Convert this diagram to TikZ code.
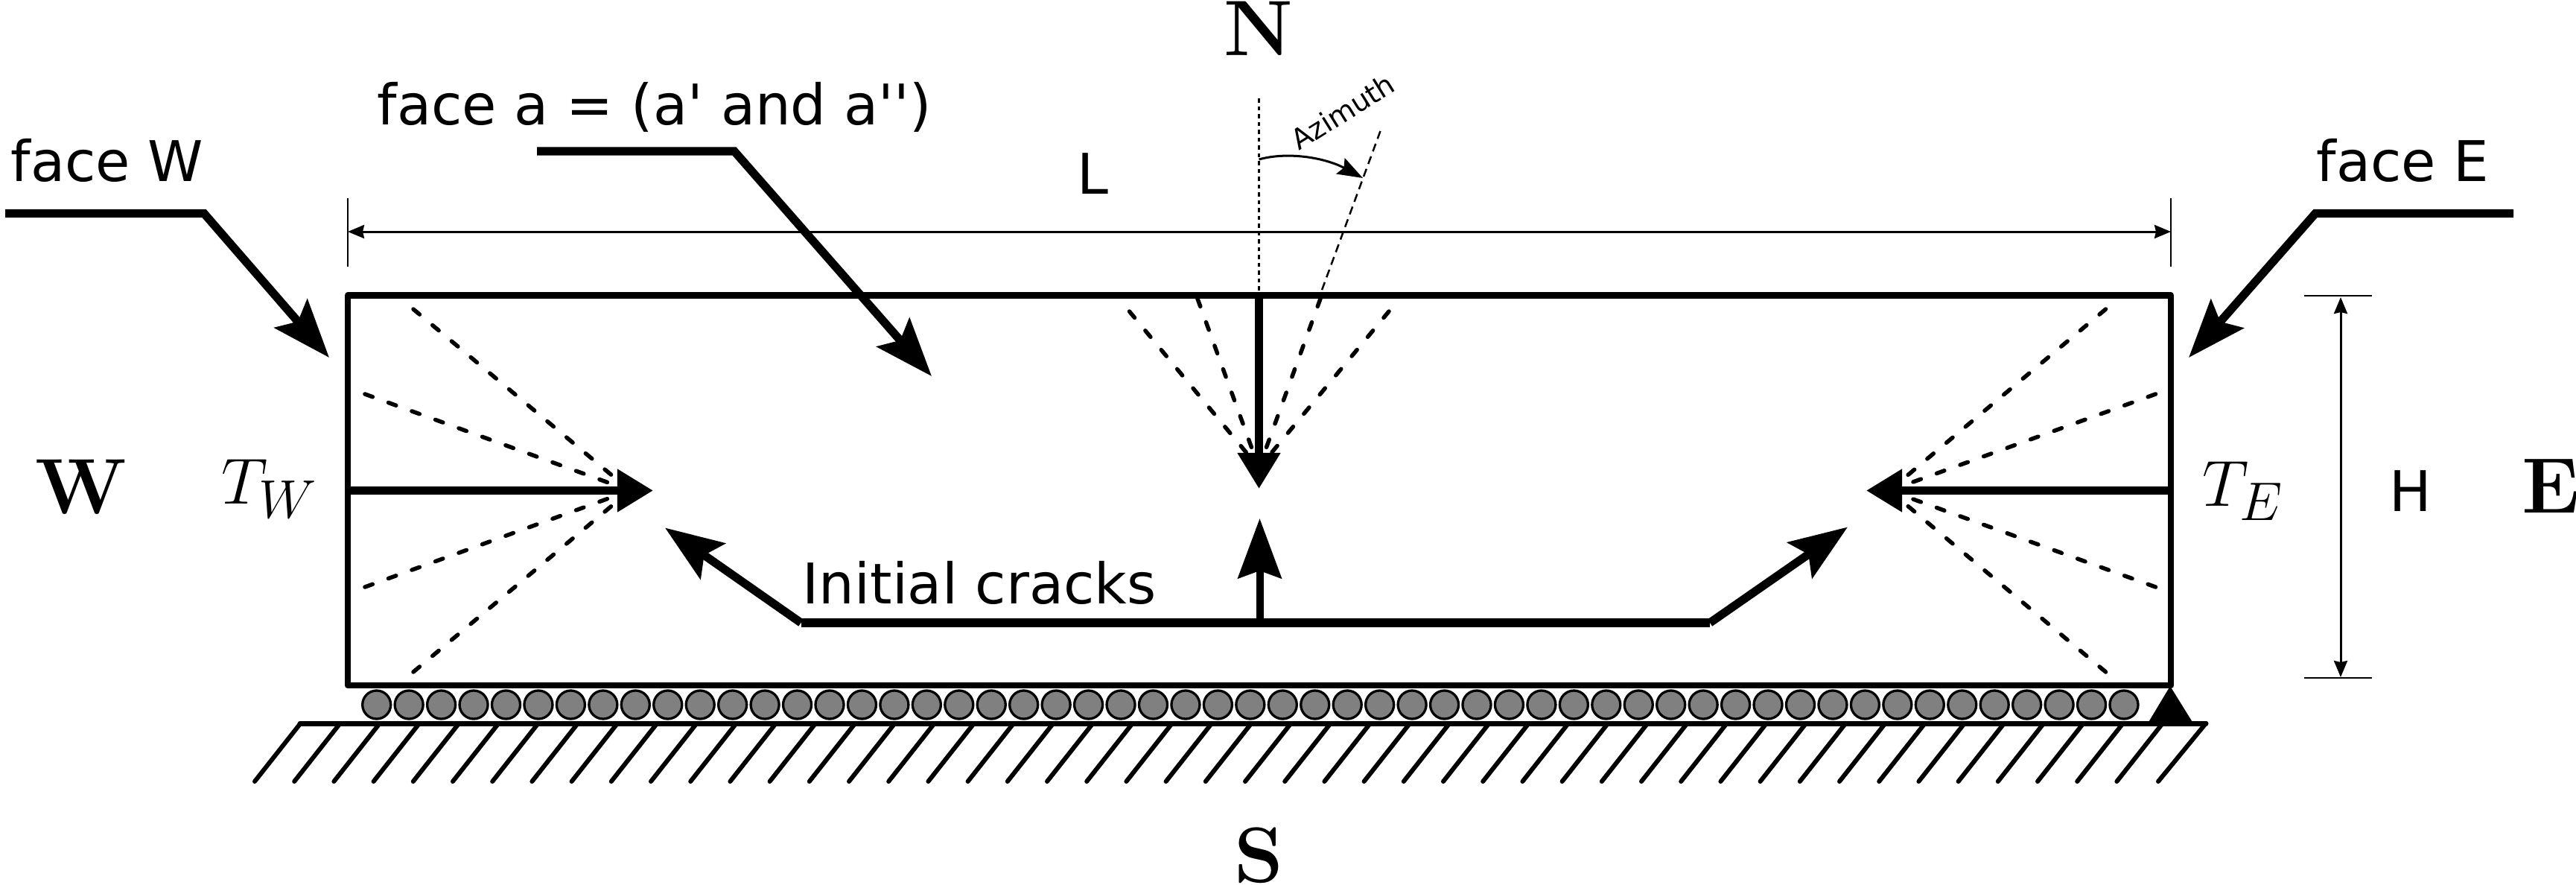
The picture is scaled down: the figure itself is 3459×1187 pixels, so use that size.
\documentclass[tikz,border=0pt]{standalone}
\usepackage[no-math]{fontspec}
\usepackage{amsmath}
\usetikzlibrary{arrows.meta}
\newfontfamily\labelfont{DejaVu Sans}
\tikzset{
    wall/.style={line width=.088cm, line join=round},
    leader/.style={line width=.112cm, line join=miter, -{Stealth[length=.78cm,width=.58cm,inset=.14cm]}},
    force/.style={line width=.11cm, -{Triangle[length=.48cm,width=.55cm]}},
    fan/.style={line width=.055cm, line cap=round, dash pattern=on .11cm off .225cm},
    dimline/.style={line width=.03cm, {Stealth[length=.22cm,width=.18cm,inset=.02cm]}-{Stealth[length=.22cm,width=.18cm,inset=.02cm]}},
    tick/.style={line width=.025cm},
    facelabel/.style={inner sep=0pt, anchor=base west, font=\labelfont\fontsize{21.4}{26}\selectfont},
    compass/.style={inner sep=0pt, anchor=base, font=\bfseries\fontsize{30}{35}\selectfont},
    force label/.style={inner sep=0pt, anchor=base west, font=\fontsize{27.5}{32}\selectfont},
    roller/.style={draw, line width=.033cm, fill=black!50},
    hatch/.style={line width=.06cm, line cap=round}
}
\begin{document}
\begin{tikzpicture}[x=.01cm, y=-.01cm]
    \useasboundingbox (0,0) rectangle (3459,1187);
    \def \n {54} % rollers minus one
    \def \boxl {467}
    \def \boxr {2915}
    \def \boxt {396.5}
    \def \boxb {920}
    \coordinate (tipW) at (877,658.5);
    \coordinate (tipE) at (2506,658.5);
    \coordinate (tipN) at (1690.5,656);
    \coordinate (fanW) at (846,658.5);
    \coordinate (fanE) at (2537,658.5);
    \coordinate (fanN) at (1690.5,628);
    % fans
    \foreach \y in {415,529,788,902}
    {
      \pgfmathsetmacro{\xoff}{(\y==415 || \y==902) ? 555 : 490}
      \draw[fan] (\xoff,\y) -- (fanW);
      \pgfmathsetmacro{\xoff}{(\y==415 || \y==902) ? 2827.5 : 2894.5}
      \draw[fan] (\xoff,\y) -- (fanE);
    }
    \foreach \x/\y in {1516.5/418,1608/401,1773/401,1865/418}
    {
      \draw[fan] (\x,\y) -- (fanN);
    }
    % block
    \draw[wall] (\boxl,\boxt) rectangle (\boxr,\boxb);
    \draw[force] (\boxl,658.5) -- (tipW);
    \draw[force] (\boxr,658.5) -- (tipE);
    \draw[force] (1690.5,\boxt) -- (tipN);
    % support
    \foreach \s in {0,...,\n}
    {
      \draw[roller] ({505.7+43.45*\s},946) circle (.19cm);
    }
    \foreach \s in {0,...,47}
    {
      \draw[hatch] ({403.5+53.2*\s},971) -- ({342+53.2*\s},1049);
    }
    \draw[hatch] (2962,971) -- (2898,1049);
    \draw[line width=.07cm, line cap=round] (403,971) -- (2962,971);
    \fill (2914,921) -- (2945,971) -- (2884,971) -- cycle;
    % dimensions
    \draw[tick] (\boxl,266) -- (\boxl,358);
    \draw[tick] (\boxr,266) -- (\boxr,358);
    \draw[dimline] (\boxl,311) -- (\boxr,311);
    \draw[tick] (3094,397) -- (3185,397);
    \draw[tick] (3094,910) -- (3185,910);
    \draw[dimline] (3143,399) -- (3143,909);
    % azimuth
    \draw[line width=.03cm, dash pattern=on .055cm off .05cm] (1690.5,132) -- (1690.5,392);
    \draw[line width=.025cm, dash pattern=on .11cm off .07cm] (1853.5,176) -- (1774,392);
    \draw[line width=.03cm, -{Stealth[length=.34cm,width=.24cm,inset=.05cm]}]
      (1690.5,214) .. controls (1730,203) and (1780,212) .. (1830,239);
    \node[inner sep=0pt, rotate=32, font=\labelfont\fontsize{10.7}{13}\selectfont] (azimuth) at (1803,150) {Azimuth};
    % leaders
    \draw[leader] (7,286.5) -- (274,286.5) -- (442,480);
    \draw[leader] (721,203) -- (986,203) -- (1251,505);
    \draw[leader] (3375,286.5) -- (3109,286.5) -- (2939,480);
    \draw[leader] (1075.5,836) -- (893,708.5);
    \draw[leader] (2296,836) -- (2481,707.5);
    \draw[line width=.112cm] (1075.5,836) -- (2296,836);
    \draw[line width=.1cm, -{Stealth[length=.8cm,width=.58cm,inset=.1cm]}] (1691.5,836) -- (1691.5,696);
    % labels
    \node[facelabel] (faceW) at (14,243) {face W};
    \node[facelabel] (faceA) at (506,167) {face a = (a' and a'')};
    \node[facelabel] (faceE) at (3110,243) {face E};
    \node[facelabel] (cracks) at (1077,810) {Initial cracks};
    \node[facelabel] (lenL) at (1446,260) {L};
    \node[facelabel] (lenH) at (3208,686) {H};
    \node[force label] (tW) at (297,676) {$T_W$};
    \node[force label] (tE) at (2957,679) {$T_E$};
    \node[compass] (north) at (1690,74) {N};
    \node[compass] (south) at (1690,1184) {S};
    \node[compass, anchor=base west] (west) at (47,689) {W};
    \node[compass, anchor=base west] (east) at (3386,688) {E};
\end{tikzpicture}
\end{document}
